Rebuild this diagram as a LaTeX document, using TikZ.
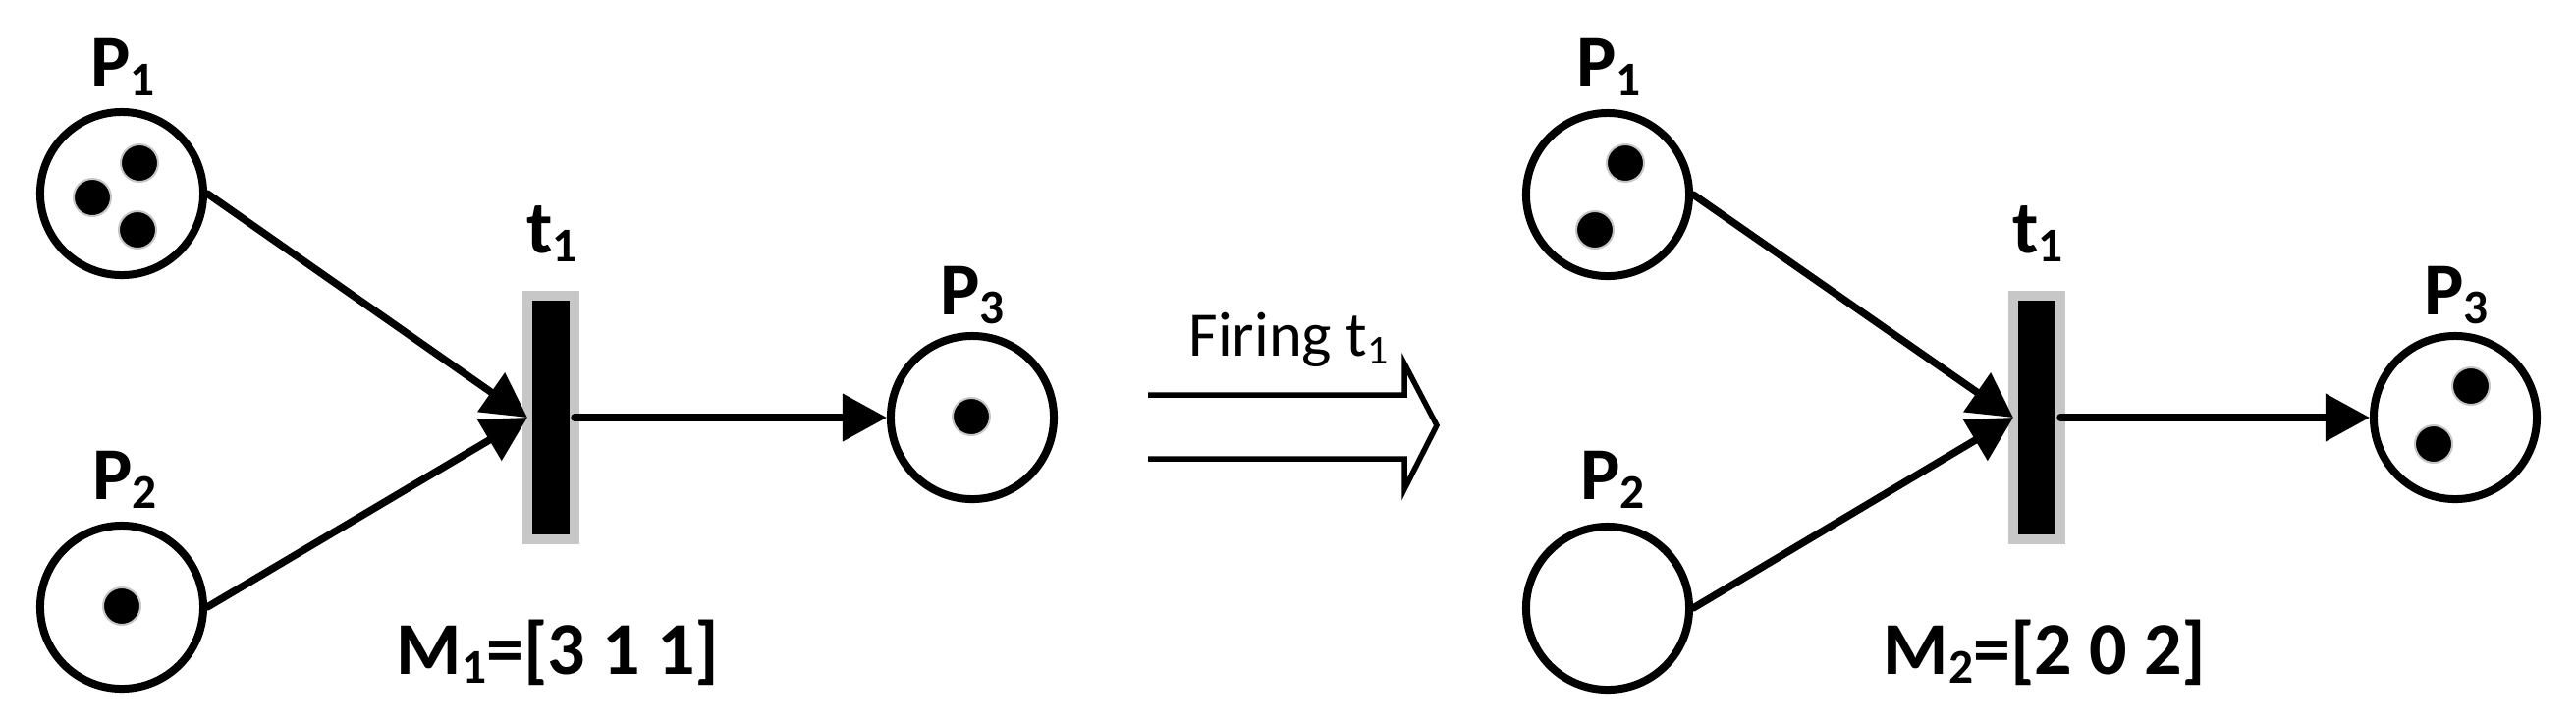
\documentclass[tikz,border=0pt]{standalone}
\usepackage{fontspec}
\setmainfont{Carlito}
\usepackage{graphicx}
\usetikzlibrary{arrows.meta}
\newcommand\lowsub[1]{\raisebox{-0.13em}{\scalebox{0.65}{#1}}}
\begin{document}
\begin{tikzpicture}[x=0.01cm,y=-0.01cm,
  pl/.style={circle,draw,line width=0.08cm,minimum size=1.66cm,inner sep=0pt},
  tok/.style={circle,fill=black,draw=black!22,line width=0.02cm,minimum size=0.38cm,inner sep=0pt},
  tr/.style={rectangle,fill=black,draw=black!22,line width=0.1cm,minimum width=0.48cm,minimum height=2.48cm,inner sep=0pt},
  lbl/.style={font=\fontsize{21.6pt}{24pt}\selectfont\bfseries,anchor=base,inner sep=0pt},
  flow/.style={line width=0.075cm,line cap=round,-{Triangle[length=0.45cm,width=0.47cm]}},
  firing/.style={line width=0.055cm,line join=miter},
]
\useasboundingbox (0,0) rectangle (2623,738);

% ---------- left net (M1) ----------
\node[pl] (a1) at (124,197) {};
\node[pl] (a2) at (124,618) {};
\node[pl] (a3) at (990,425) {};
\node[tr] (at) at (561,425) {};
\node[tok] (a1k1) at (142,166) {};
\node[tok] (a1k2) at (94,201) {};
\node[tok] (a1k3) at (140,234) {};
\node[tok] (a2k1) at (124,617) {};
\node[tok] (a3k1) at (989,424) {};
\node[lbl] (la1) at (125,88) {P\lowsub{1}};
\node[lbl] (la2) at (127,508) {P\lowsub{2}};
\node[lbl] (lat) at (562,257) {t\lowsub{1}};
\node[lbl] (la3) at (990,320) {P\lowsub{3}};
\node[lbl] (lam) at (568,686) {M\lowsub{1}=[3 1 1]};
\draw[flow] (a1.east) -- ([xshift=0.05cm]at.west);
\draw[flow] (a2.east) -- ([xshift=0.05cm]at.west);
\draw[flow] ([xshift=-0.05cm]at.east) -- (a3.west);

% ---------- firing arrow ----------
\coordinate (fa) at (1169,402);
\coordinate (fb) at (1169,467);
\coordinate (fh1) at (1430,402);
\coordinate (fh2) at (1430,370);
\coordinate (ftip) at (1463,433);
\coordinate (fh3) at (1430,498);
\coordinate (fh4) at (1430,467);
\draw[firing] (fa) -- (fh1) -- (fh2) -- (ftip) -- (fh3) -- (fh4) -- (fb);
\node[font=\fontsize{18.3pt}{20pt}\selectfont,anchor=base,inner sep=0pt] (fl) at (1312,362) {Firing t\lowsub{1}};

% ---------- right net (M2) ----------
\node[pl] (b1) at (1637,198) {};
\node[pl] (b2) at (1637,619) {};
\node[pl] (b3) at (2500,425) {};
\node[tr] (bt) at (2074,425) {};
\node[tok] (b1k1) at (1655,166) {};
\node[tok] (b1k2) at (1624,234) {};
\node[tok] (b3k1) at (2516,393) {};
\node[tok] (b3k2) at (2478,452) {};
\node[lbl] (lb1) at (1638,88) {P\lowsub{1}};
\node[lbl] (lb2) at (1642,508) {P\lowsub{2}};
\node[lbl] (lbt) at (2075,257) {t\lowsub{1}};
\node[lbl] (lb3) at (2501,320) {P\lowsub{3}};
\node[lbl] (lbm) at (2082,686) {M\lowsub{2}=[2 0 2]};
\draw[flow] (b1.east) -- ([xshift=0.05cm]bt.west);
\draw[flow] (b2.east) -- ([xshift=0.05cm]bt.west);
\draw[flow] ([xshift=-0.05cm]bt.east) -- (b3.west);
\end{tikzpicture}
\end{document}
